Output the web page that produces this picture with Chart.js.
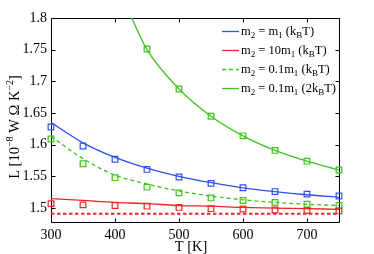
<!DOCTYPE html>
<html>
<head>
<meta charset="utf-8">
<script src="https://cdn.jsdelivr.net/npm/chart.js@4/dist/chart.umd.min.js"></script>
<style>
html,body{margin:0;padding:0;background:#fff;}
#wrap{width:374px;height:254px;position:relative;}
</style>
</head>
<body>
<div id="wrap"><canvas id="c" width="374" height="254"></canvas></div>
<script>
// ---- data ----
const temps = [300, 350, 400, 450, 500, 550, 600, 650, 700, 750];

// simulated points (squares)
const blueMarks      = [1.628, 1.598, 1.577, 1.561, 1.549, 1.539, 1.532, 1.526, 1.522, 1.519];
const redMarks       = [1.507, 1.505, 1.504, 1.503, 1.501, 1.499, 1.4985, 1.497, 1.496, 1.4955];
const greenDashMarks = [1.609, 1.570, 1.548, 1.533, 1.524, 1.516, 1.512, 1.509, 1.506, 1.504];
const greenMarks     = [null, null, null, 1.751, 1.688, 1.645, 1.614, 1.591, 1.574, 1.560];

// fitted curves (lines)
const blueFit      = [1.635, 1.603, 1.580, 1.563, 1.550, 1.540, 1.532, 1.526, 1.521, 1.517];
const redFit       = [1.515, 1.512, 1.509, 1.507, 1.504, 1.503, 1.501, 1.500, 1.499, 1.498];
const greenDashFit = [1.613, 1.578, 1.552, 1.538, 1.527, 1.519, 1.513, 1.509, 1.506, 1.504];
const greenFitT    = [426, 450, 500, 550, 600, 650, 700, 750];
const greenFit     = [1.800, 1.750, 1.688, 1.645, 1.614, 1.591, 1.574, 1.560];
const redDotted    = [1.491, 1.491, 1.491, 1.491, 1.491, 1.491, 1.491, 1.491, 1.491, 1.491];

const xTickVals   = [300, 400, 500, 600, 700];
const xTickLabels = ['300', '400', '500', '600', '700'];
const yTickVals   = [1.5, 1.55, 1.6, 1.65, 1.7, 1.75, 1.8];
const yTickLabels = ['1.5', '1.55', '1.6', '1.65', '1.7', '1.75', '1.8'];

const legendItems = [
  { color: 'blue',  dash: [],     parts: [['m',0],['2',1],[' = m',0],['1',1],[' (k',0],['B',1],['T)',0]] },
  { color: 'red',   dash: [],     parts: [['m',0],['2',1],[' = 10m',0],['1',1],[' (k',0],['B',1],['T)',0]] },
  { color: 'green', dash: [4,3],  parts: [['m',0],['2',1],[' = 0.1m',0],['1',1],[' (k',0],['B',1],['T)',0]] },
  { color: 'green', dash: [],     parts: [['m',0],['2',1],[' = 0.1m',0],['1',1],[' (2k',0],['B',1],['T)',0]] }
];

// ---- styling ----
const COL = { blue: '#3050f0', red: '#f02424', green: '#3ec41e' };
const FONT = '"Liberation Serif", "DejaVu Serif", serif';

function pts(xs, ys) {
  const out = [];
  xs.forEach((x, i) => { if (ys[i] !== null && ys[i] !== undefined) out.push({ x: x, y: ys[i] }); });
  return out;
}
function fitDs(xs, ys, color, dash, width) {
  return { data: pts(xs, ys), showLine: true, borderColor: color, borderWidth: width || 1.3,
           borderDash: dash || [], pointRadius: 0, pointHoverRadius: 0, fill: false,
           cubicInterpolationMode: 'monotone' };
}
function markDs(xs, ys, color) {
  return { data: pts(xs, ys), showLine: false, borderColor: color, backgroundColor: 'rgba(0,0,0,0)',
           pointStyle: 'rect', pointRadius: 4, pointBorderWidth: 1.2, pointHoverRadius: 4, clip: false };
}

function drawFrame(chart) {
  const ctx = chart.ctx, area = chart.chartArea;
  const sx = chart.scales.x, sy = chart.scales.y;
  const l = Math.round(area.left) + 0.5, r = Math.round(area.right) + 0.5;
  const t = Math.round(area.top) + 0.5, b = Math.round(area.bottom) + 0.5;
  ctx.save();
  ctx.setLineDash([]);
  ctx.strokeStyle = '#000';
  ctx.lineWidth = 1;
  ctx.beginPath();
  ctx.moveTo(l, t); ctx.lineTo(r, t); ctx.lineTo(r, b); ctx.lineTo(l, b); ctx.closePath();
  const tl = 4;
  xTickVals.forEach(v => {
    const px = Math.round(sx.getPixelForValue(v)) + 0.5;
    ctx.moveTo(px, b); ctx.lineTo(px, b - tl);
    ctx.moveTo(px, t); ctx.lineTo(px, t + tl);
  });
  yTickVals.forEach(v => {
    const py = Math.round(sy.getPixelForValue(v)) + 0.5;
    ctx.moveTo(l, py); ctx.lineTo(l + tl, py);
    ctx.moveTo(r, py); ctx.lineTo(r - tl, py);
  });
  ctx.stroke();
  ctx.restore();
}

const decor = {
  id: 'decor',
  beforeDatasetsDraw(chart) {
    drawFrame(chart);
  },
  afterDraw(chart) {
    const ctx = chart.ctx;
    ctx.save();
    ctx.fillStyle = '#000';
    // legend
    const lx0 = 222, lx1 = 239, tx = 241;
    const rowY = [31, 50, 69, 88];
    legendItems.forEach((it, i) => {
      const y = rowY[i];
      ctx.strokeStyle = COL[it.color];
      ctx.lineWidth = 1.3;
      ctx.setLineDash(it.dash);
      ctx.beginPath(); ctx.moveTo(lx0, y + 0.5); ctx.lineTo(lx1, y + 0.5); ctx.stroke();
      ctx.setLineDash([]);
      let x = tx;
      ctx.textBaseline = 'alphabetic';
      ctx.textAlign = 'left';
      it.parts.forEach(p => {
        const sub = p[1] === 1;
        ctx.font = (sub ? '9px ' : '12.5px ') + FONT;
        ctx.fillText(p[0], x, y + 4 + (sub ? 3 : 0));
        x += ctx.measureText(p[0]).width;
      });
    });
    // x title
    ctx.font = '14.5px ' + FONT;
    ctx.textAlign = 'center';
    ctx.textBaseline = 'middle';
    ctx.fillText('T [K]', 191, 247);
    // y title (rotated), with superscripts
    const parts = [['L [10',0],['\u22128',1],[' W \u03A9 K',0],['\u22122',1],[']',0]];
    ctx.translate(15, 127);
    ctx.rotate(-Math.PI / 2);
    let total = 0;
    parts.forEach(p => { ctx.font = (p[1] ? '10px ' : '14.5px ') + FONT; total += ctx.measureText(p[0]).width; });
    let x = -total / 2;
    ctx.textAlign = 'left';
    ctx.textBaseline = 'middle';
    parts.forEach(p => {
      ctx.font = (p[1] ? '10px ' : '14.5px ') + FONT;
      ctx.fillText(p[0], x, p[1] ? -5 : 0);
      x += ctx.measureText(p[0]).width;
    });
    ctx.restore();
  }
};

new Chart(document.getElementById('c'), {
  type: 'scatter',
  data: {
    datasets: [
      fitDs(temps, redDotted, COL.red, [3.5, 2.5], 2),
      fitDs(temps, blueFit, COL.blue),
      fitDs(temps, redFit, COL.red),
      fitDs(temps, greenDashFit, COL.green, [4, 3]),
      fitDs(greenFitT, greenFit, COL.green),
      markDs(temps, blueMarks, COL.blue),
      markDs(temps, redMarks, COL.red),
      markDs(temps, greenDashMarks, COL.green),
      markDs(temps, greenMarks, COL.green)
    ]
  },
  options: {
    responsive: false,
    animation: false,
    devicePixelRatio: 1,
    layout: { padding: { left: 0, right: 35, top: 18, bottom: 0 } },
    plugins: { legend: { display: false }, tooltip: { enabled: false } },
    scales: {
      x: {
        type: 'linear', min: 300, max: 750,
        afterBuildTicks: s => { s.ticks = xTickVals.map(v => ({ value: v })); },
        afterFit: s => { s.height = 32; },
        ticks: { color: '#000', font: { family: FONT, size: 14 }, padding: 5, maxRotation: 0,
                 callback: (v) => xTickLabels[xTickVals.indexOf(v)] },
        grid: { display: false, drawTicks: false },
        border: { display: false }
      },
      y: {
        type: 'linear', min: 1.478, max: 1.8,
        afterBuildTicks: s => { s.ticks = yTickVals.map(v => ({ value: v })); },
        afterFit: s => { s.width = 51; },
        ticks: { color: '#000', font: { family: FONT, size: 14 }, padding: 4,
                 callback: (v, i) => yTickLabels[i] },
        grid: { display: false, drawTicks: false },
        border: { display: false }
      }
    }
  },
  plugins: [decor]
});
</script>
</body>
</html>
